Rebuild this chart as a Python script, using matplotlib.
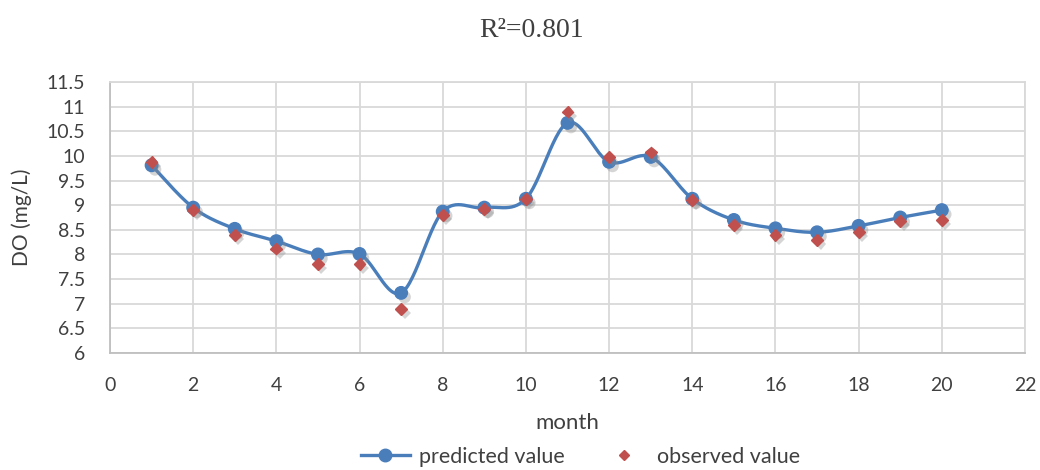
import numpy as np
import matplotlib
matplotlib.use("Agg")
import matplotlib.pyplot as plt
from matplotlib.lines import Line2D
import matplotlib.patheffects as pe

months = list(range(1, 21))
predicted = [9.81, 8.95, 8.52, 8.27, 8.00, 8.01, 7.22, 8.87, 8.95, 9.13,
             10.67, 9.88, 9.98, 9.13, 8.70, 8.53, 8.45, 8.58, 8.75, 8.90]
observed = [9.88, 8.90, 8.40, 8.12, 7.80, 7.80, 6.90, 8.80, 8.92, 9.12,
            10.90, 9.98, 10.07, 9.10, 8.60, 8.40, 8.30, 8.45, 8.68, 8.70]
x_ticks = list(range(0, 23, 2))
y_ticks = [6, 6.5, 7, 7.5, 8, 8.5, 9, 9.5, 10, 10.5, 11, 11.5]
title = "R²=0.801"

BLUE = "#4a7ebb"
RED = "#c0504d"
TICK = "#404040"
FONT = "Lato"


def smooth(xs, ys, n=30):
    # Excel-like smoothed line: cubic Bezier with Catmull-Rom tangents
    xs = np.asarray(xs, float)
    ys = np.asarray(ys, float)
    P = np.column_stack([xs, ys])
    out = []
    for i in range(len(P) - 1):
        p0 = P[i - 1] if i > 0 else P[i]
        p1 = P[i]
        p2 = P[i + 1]
        p3 = P[i + 2] if i + 2 < len(P) else P[i + 1]
        c1 = p1 + (p2 - p0) / 6.0
        c2 = p2 - (p3 - p1) / 6.0
        t = np.linspace(0, 1, n)[:, None]
        b = ((1 - t) ** 3) * p1 + 3 * ((1 - t) ** 2) * t * c1 + 3 * (1 - t) * t ** 2 * c2 + t ** 3 * p2
        out.append(b if i == 0 else b[1:])
    B = np.vstack(out)
    return B[:, 0], B[:, 1]


fig = plt.figure(figsize=(10.4, 4.7), dpi=100)
ax = fig.add_axes([110 / 1040, 117 / 470, 915 / 1040, 271 / 470])

shadow = [pe.SimplePatchShadow(offset=(2.5, -3), shadow_rgbFace="#888888", alpha=0.35), pe.Normal()]

sx, sy = smooth(months, predicted)
ax.plot(sx, sy, color=BLUE, lw=2.4, zorder=3, solid_capstyle="round")
ax.plot(months, predicted, linestyle="none", marker="o", ms=9, color=BLUE, zorder=4,
        path_effects=shadow)
ax.plot(months, observed, linestyle="none", marker="D", ms=6, color=RED, zorder=5,
        path_effects=shadow)

ax.set_xlim(0, 22)
ax.set_ylim(6, 11.5)
ax.set_xticks(x_ticks)
ax.set_yticks(y_ticks)
ax.set_yticklabels([f"{v:g}" for v in y_ticks])
ax.grid(True, color="#d9d9d9", lw=1.3)
ax.set_axisbelow(True)
for s in ax.spines.values():
    s.set_color("#d9d9d9")
    s.set_linewidth(1.3)
ax.spines["left"].set_color("#bfbfbf")
ax.spines["bottom"].set_color("#bfbfbf")
ax.tick_params(axis="y", length=0, labelsize=14, labelcolor=TICK, pad=18)
ax.tick_params(axis="x", length=0, labelsize=14, labelcolor=TICK, pad=17)
for lab in ax.get_xticklabels() + ax.get_yticklabels():
    lab.set_fontfamily(FONT)

ax.set_xlabel("month", fontsize=16, color=TICK, family=FONT, labelpad=14)
ax.set_ylabel("DO (mg/L)", fontsize=15, color=TICK, family=FONT, labelpad=10)

fig.text(0.511, 0.935, title, ha="center", va="center", fontsize=20,
         family="Liberation Serif", color="#404040")

handles = [Line2D([0], [0], color=BLUE, lw=2.4, marker="o", ms=9),
           Line2D([0], [0], color=RED, linestyle="none", marker="D", ms=5.5)]
fig.legend(handles, ["predicted value", "observed value"], loc="center",
           bbox_to_anchor=(0.558, 0.028), ncol=2, frameon=False,
           prop={"family": FONT, "size": 15.5}, labelcolor=TICK,
           columnspacing=1.6, handlelength=2.3, handletextpad=0.4)

fig.savefig("out.png", dpi=100)
